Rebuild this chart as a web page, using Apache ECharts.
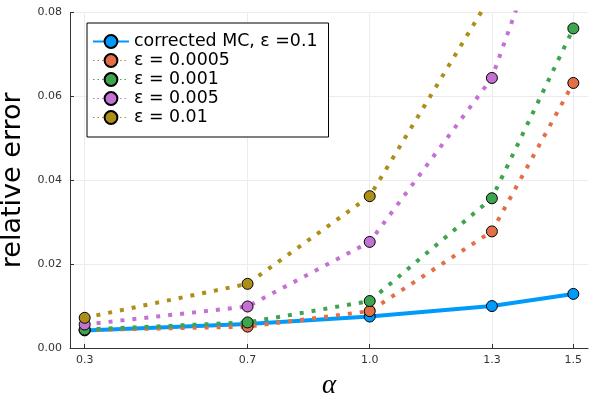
<!DOCTYPE html>
<html>
<head>
<meta charset="utf-8">
<script src="https://cdn.jsdelivr.net/npm/echarts@6/dist/echarts.min.js"></script>
<style>
  html, body { margin: 0; padding: 0; background: #fff; }
  #chart { width: 600px; height: 400px; }
</style>
</head>
<body>
<div id="chart"></div>
<script>
// values
const alphas = [0.3, 0.7, 1.0, 1.3, 1.5];
const xTicks = [0.3, 0.7, 1.0, 1.3, 1.5];

const correctedMC = [0.0042, 0.0057, 0.0075, 0.0100, 0.0129];
const eps0005 = [0.0043, 0.0051, 0.0088, 0.0278, 0.0632];
const eps001 = [0.0044, 0.0061, 0.0112, 0.0357, 0.0762];
const eps005 = [0.0056, 0.0099, 0.0253, 0.0644, 0.119];
const eps01 = [0.0072, 0.0153, 0.0362, 0.0843, 0.17];

const seriesNames = ['corrected MC, ε =0.1', 'ε = 0.0005', 'ε = 0.001', 'ε = 0.005', 'ε = 0.01'];
const seriesValues = [correctedMC, eps0005, eps001, eps005, eps01];
const colors = ['#009AFA', '#E36F47', '#3EA44E', '#C371D2', '#AC8E18'];

const chart = echarts.init(document.getElementById('chart'));

const series = seriesValues.map((vals, i) => {
  const solid = i === 0;
  return {
    name: seriesNames[i],
    type: 'line',
    data: vals.map((v, k) => [alphas[k], v]),
    symbol: 'circle',
    symbolSize: 11,
    clip: true,
    itemStyle: {
      color: colors[i],
      borderColor: '#000',
      borderWidth: 1,
    },
    lineStyle: {
      color: colors[i],
      width: 4,
      type: solid ? 'solid' : [4, 8],
      cap: 'butt',
    },
    emphasis: { disabled: true },
    z: 2 + i,
  };
});

// thin lines in the legend, as in the reference
const legendData = seriesNames.map((name, i) => ({
  name: name,
  lineStyle: {
    width: i === 0 ? 2 : 1.2,
    type: i === 0 ? 'solid' : [1.5, 3],
  },
}));

const option = {
  animation: false,
  backgroundColor: '#fff',
  grid: {
    left: 70,
    right: 12,
    top: 12.5,
    bottom: 52,
    outerBoundsMode: 'none',
  },
  legend: {
    orient: 'vertical',
    left: 87,
    top: 23,
    padding: [10, 11, 11, 5],
    itemGap: 2,
    itemWidth: 36,
    itemHeight: 16,
    backgroundColor: '#fff',
    borderColor: '#000',
    borderWidth: 1,
    borderRadius: 0,
    textStyle: {
      fontFamily: 'DejaVu Sans',
      fontSize: 17.4,
      color: '#000',
      lineHeight: 16,
    },
    data: legendData,
  },
  xAxis: {
    type: 'value',
    min: 0.264,
    max: 1.536,
    name: 'α',
    nameLocation: 'middle',
    nameGap: 24,
    nameTextStyle: {
      fontFamily: 'Liberation Serif',
      fontStyle: 'italic',
      fontSize: 27,
      color: '#000',
    },
    axisLine: { lineStyle: { color: '#333', width: 1 } },
    axisTick: {
      inside: true,
      length: 4,
      customValues: xTicks,
      lineStyle: { color: '#333' },
    },
    axisLabel: {
      customValues: xTicks,
      margin: 7,
      fontFamily: 'DejaVu Sans',
      fontSize: 11,
      color: '#333',
      formatter: (v) => v.toFixed(1),
    },
    splitLine: {
      show: true,
      customValues: xTicks,
      lineStyle: { color: '#ececec', width: 1 },
    },
  },
  yAxis: {
    type: 'value',
    min: 0,
    max: 0.08,
    interval: 0.02,
    name: 'relative error',
    nameLocation: 'middle',
    nameGap: 30,
    nameTextStyle: {
      fontFamily: 'DejaVu Sans',
      fontSize: 27,
      color: '#000',
    },
    axisLine: { show: true, lineStyle: { color: '#333', width: 1 } },
    axisTick: { show: true, inside: true, length: 4, lineStyle: { color: '#333' } },
    axisLabel: {
      margin: 8,
      fontFamily: 'DejaVu Sans',
      fontSize: 11,
      color: '#333',
      formatter: (v) => v.toFixed(2),
    },
    splitLine: { show: true, lineStyle: { color: '#ececec', width: 1 } },
  },
  series: series,
};

chart.setOption(option);

window.addEventListener('resize', () => {
  chart.resize();
});
</script>
</body>
</html>
